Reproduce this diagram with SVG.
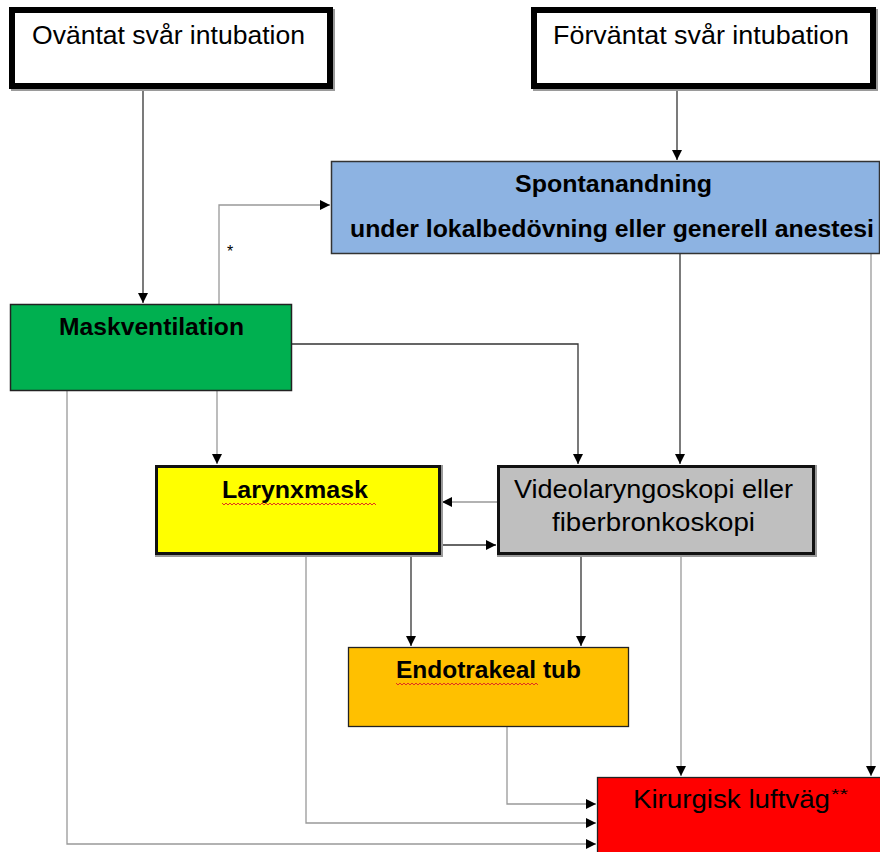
<svg xmlns="http://www.w3.org/2000/svg" width="880" height="852" viewBox="0 0 880 852">
<defs>
<marker id="arr" markerWidth="11" markerHeight="11" refX="10" refY="5" orient="auto" markerUnits="userSpaceOnUse">
<path d="M0,0 L10,5 L0,10 z" fill="#000"/>
</marker>
<style>
text{font-family:"Liberation Sans",Arial,sans-serif;fill:#000}
.b{font-weight:bold}
.c{fill:none;stroke-width:1.3;marker-end:url(#arr)}
.dk{stroke:#333}
.gr{stroke:#999}
.sh{fill:#9a9a9a}
.sq{fill:none;stroke:#e03020;stroke-width:1}
</style>
</defs>
<rect width="880" height="852" fill="#fff"/>

<g id="connectors">
<path class="c dk" d="M143,89 V303"/>
<path class="c dk" d="M677,89 V160"/>
<path class="c gr" d="M219,304 V205 H330"/>
<path class="c dk" d="M292,344 H578 V464"/>
<path class="c gr" d="M217,390 V464"/>
<path class="c gr" d="M67,390 V844 H596"/>
<path class="c dk" d="M680,254 V464"/>
<path class="c gr" d="M871,254 V776"/>
<path class="c gr" d="M497,502 H442"/>
<path class="c dk" d="M442,545 H496"/>
<path class="c dk" d="M411,556 V646"/>
<path class="c dk" d="M581,556 V646"/>
<path class="c gr" d="M306,556 V823 H596"/>
<path class="c gr" d="M681,556 V776"/>
<path class="c gr" d="M507,727 V804 H596"/>
<text x="230" y="257" font-size="16" text-anchor="middle">*</text>
</g>

<g id="ovantat">
<rect class="sh" x="11" y="9" width="324" height="82"/>
<rect x="12" y="10" width="318" height="76" fill="#fff" stroke="#000" stroke-width="6"/>
<text x="32" y="44" font-size="26" textLength="273" lengthAdjust="spacingAndGlyphs">Oväntat svår intubation</text>
</g>

<g id="forvantat">
<rect class="sh" x="533" y="9" width="345" height="82"/>
<rect x="534" y="10" width="339" height="76" fill="#fff" stroke="#000" stroke-width="6"/>
<text x="553" y="44" font-size="26" textLength="296" lengthAdjust="spacingAndGlyphs">Förväntat svår intubation</text>
</g>

<g id="spontanandning">
<rect x="331.5" y="161.5" width="548" height="92" fill="#8db3e2" stroke="#333" stroke-width="1.5"/>
<text class="b" x="515" y="192" font-size="23" textLength="197" lengthAdjust="spacingAndGlyphs">Spontanandning</text>
<text class="b" x="350" y="237" font-size="23" textLength="524" lengthAdjust="spacingAndGlyphs">under lokalbedövning eller generell anestesi</text>
</g>

<g id="maskventilation">
<rect x="10.5" y="304.5" width="281" height="86" fill="#00b050" stroke="#222" stroke-width="1.5"/>
<text class="b" x="59" y="335" font-size="24" textLength="185" lengthAdjust="spacingAndGlyphs">Maskventilation</text>
</g>

<g id="larynxmask">
<rect class="sh" x="155" y="465" width="288" height="92"/>
<rect x="156.5" y="466.5" width="283" height="87" fill="#ffff00" stroke="#111" stroke-width="3"/>
<text class="b" x="222" y="498" font-size="24" textLength="146" lengthAdjust="spacingAndGlyphs">Larynxmask</text>
<path class="sq" d="M222,503 l2,2 l2,-2 l2,2 l2,-2 l2,2 l2,-2 l2,2 l2,-2 l2,2 l2,-2 l2,2 l2,-2 l2,2 l2,-2 l2,2 l2,-2 l2,2 l2,-2 l2,2 l2,-2 l2,2 l2,-2 l2,2 l2,-2 l2,2 l2,-2 l2,2 l2,-2 l2,2 l2,-2 l2,2 l2,-2 l2,2 l2,-2 l2,2 l2,-2 l2,2 l2,-2 l2,2 l2,-2 l2,2 l2,-2 l2,2 l2,-2 l2,2 l2,-2 l2,2 l2,-2 l2,2 l2,-2 l2,2 l2,-2 l2,2 l2,-2 l2,2 l2,-2 l2,2 l2,-2 l2,2 l2,-2 l2,2 l2,-2 l2,2 l2,-2 l2,2 l2,-2 l2,2 l2,-2 l2,2 l2,-2 l2,2 l2,-2 l2,2 l2,-2 l2,2 l2,-2 l2,2"/>
</g>

<g id="videolaryngoskopi">
<rect class="sh" x="497" y="465" width="320" height="92"/>
<rect x="498.5" y="466.5" width="315" height="87" fill="#bfbfbf" stroke="#111" stroke-width="3"/>
<text x="514" y="498" font-size="25" textLength="279" lengthAdjust="spacingAndGlyphs">Videolaryngoskopi eller</text>
<text x="552" y="531" font-size="25" textLength="203" lengthAdjust="spacingAndGlyphs">fiberbronkoskopi</text>
</g>

<g id="endotrakeal">
<rect x="348.5" y="647.5" width="280" height="79" fill="#ffc000" stroke="#222" stroke-width="1.3"/>
<text class="b" x="396" y="678" font-size="24" textLength="185" lengthAdjust="spacingAndGlyphs">Endotrakeal tub</text>
<path class="sq" d="M396,683 l2,2 l2,-2 l2,2 l2,-2 l2,2 l2,-2 l2,2 l2,-2 l2,2 l2,-2 l2,2 l2,-2 l2,2 l2,-2 l2,2 l2,-2 l2,2 l2,-2 l2,2 l2,-2 l2,2 l2,-2 l2,2 l2,-2 l2,2 l2,-2 l2,2 l2,-2 l2,2 l2,-2 l2,2 l2,-2 l2,2 l2,-2 l2,2 l2,-2 l2,2 l2,-2 l2,2 l2,-2 l2,2 l2,-2 l2,2 l2,-2 l2,2 l2,-2 l2,2 l2,-2 l2,2 l2,-2 l2,2 l2,-2 l2,2 l2,-2 l2,2 l2,-2 l2,2 l2,-2 l2,2 l2,-2 l2,2 l2,-2 l2,2 l2,-2 l2,2 l2,-2 l2,2 l2,-2 l2,2 l2,-2 l2,2"/>
</g>

<g id="kirurgisk">
<rect x="597.5" y="777.5" width="300" height="100" fill="#ff0000" stroke="#222" stroke-width="1.3"/>
<text x="633" y="808" font-size="26" textLength="197" lengthAdjust="spacingAndGlyphs">Kirurgisk luftväg</text>
<text x="831" y="799" font-size="15" textLength="17" lengthAdjust="spacingAndGlyphs">**</text>
</g>
</svg>
